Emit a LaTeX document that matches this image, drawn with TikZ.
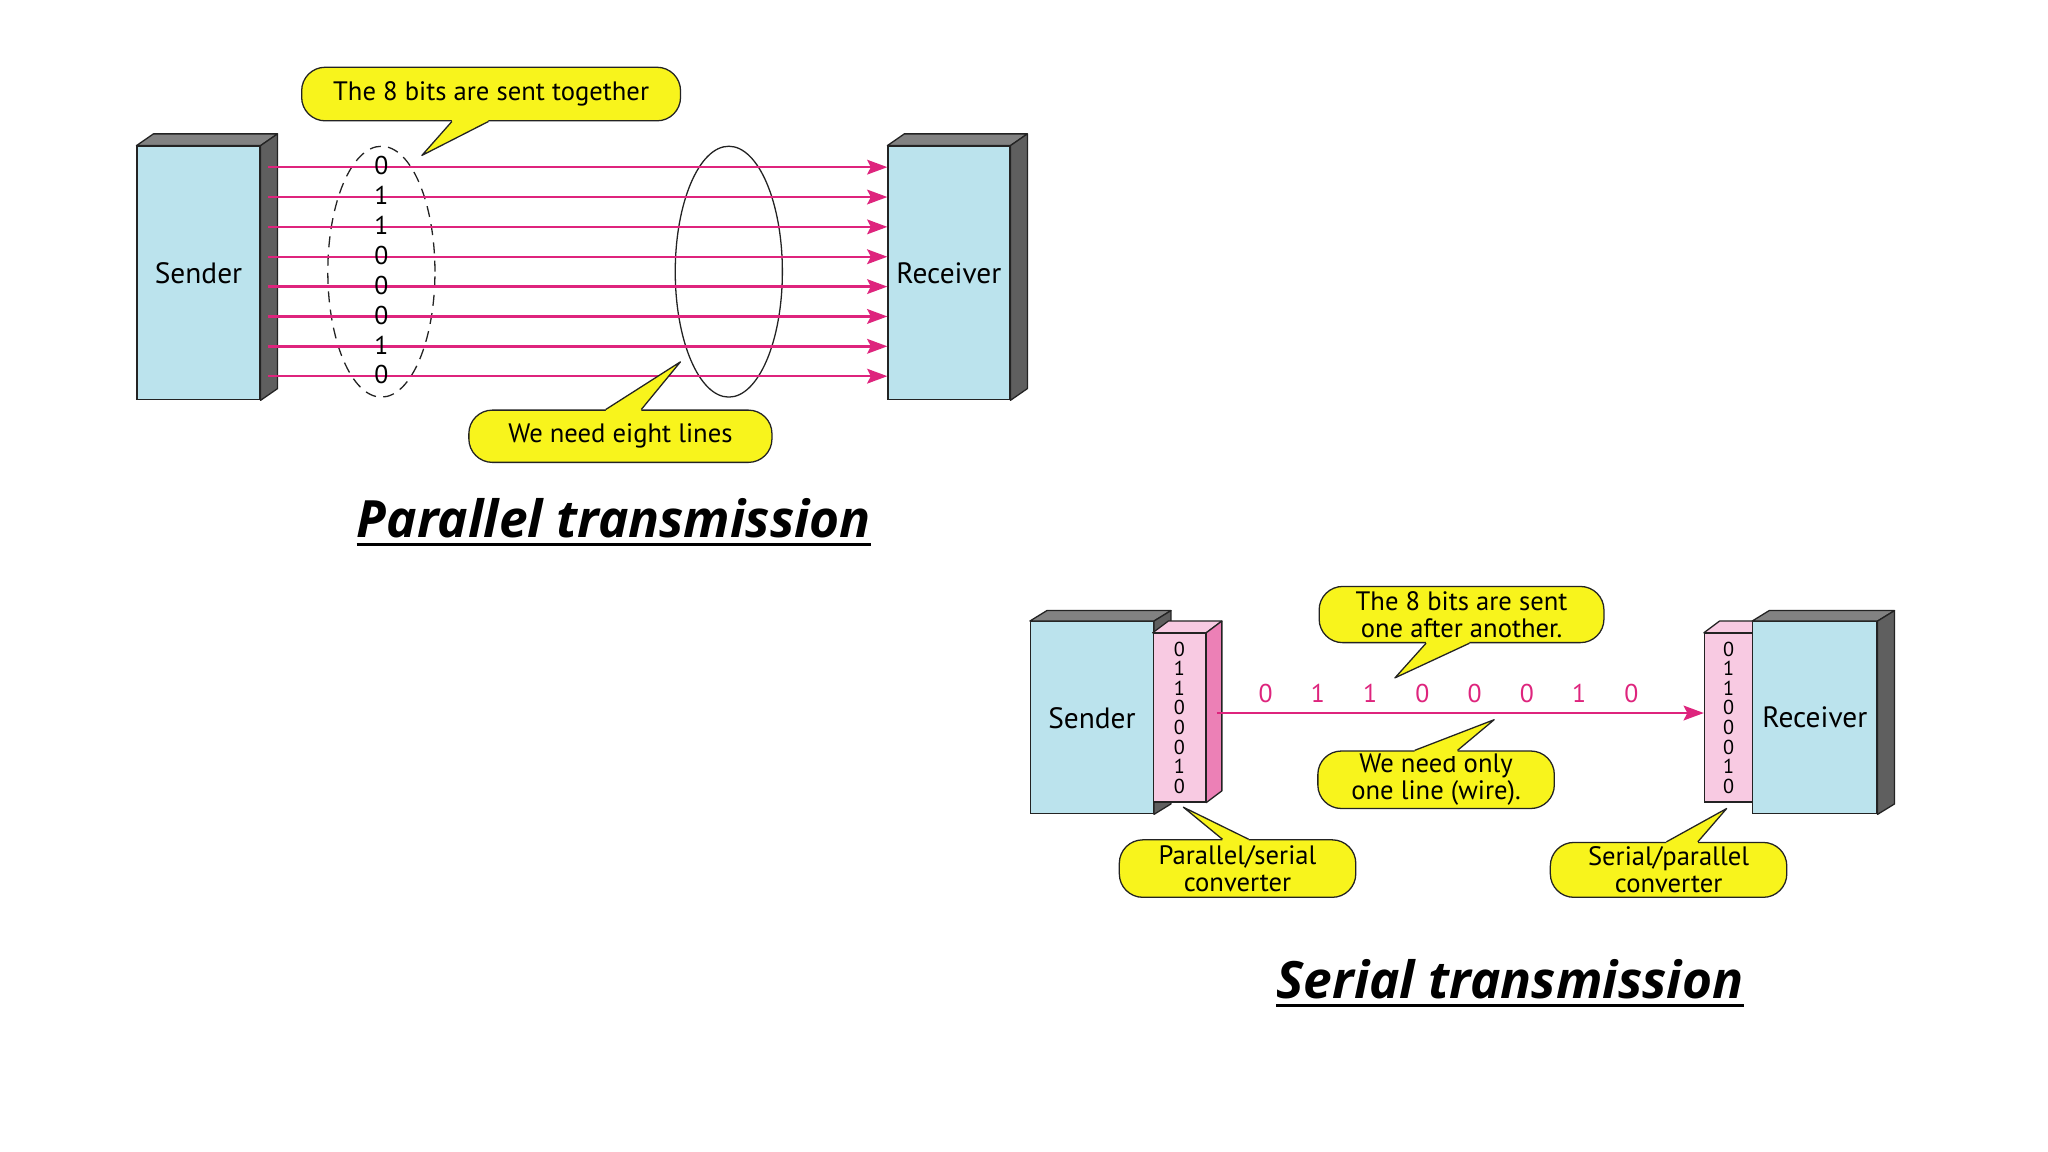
\documentclass[tikz,border=0pt]{standalone}
\usepackage{fontspec}
\setmainfont{PT Sans}
\newfontfamily\headfont{Open Sans}
\usepackage{xcolor}
\usepackage{tikz}
\usetikzlibrary{shapes.geometric, arrows.meta, positioning, calc}
\definecolor{BoxBlue}{RGB}{187, 227, 237}
\definecolor{SideGray}{RGB}{95, 95, 95}
\definecolor{TopGray}{RGB}{130, 130, 130}
\definecolor{WireMag}{RGB}{222, 36, 125}
\definecolor{CallYellow}{RGB}{248, 244, 28}
\definecolor{ConvPink}{RGB}{248, 202, 226}
\definecolor{ConvSide}{RGB}{236, 128, 182}
\definecolor{LineDark}{RGB}{35, 35, 35}

\tikzset{
  station/.style={draw=LineDark, fill=BoxBlue, line width=0.7pt, inner sep=0pt,
    font=\fontsize{16}{18}\selectfont},
  convbox/.style={draw=LineDark, fill=ConvPink, line width=0.7pt, inner sep=0pt},
  sideface/.style={draw=LineDark, fill=#1, line width=0.7pt, line join=round},
  bubble/.style={draw=LineDark, fill=CallYellow, line width=0.7pt, rounded corners=0.45cm,
    inner sep=0pt, align=center, font=\fontsize{14.5}{14.5}\selectfont},
  wire/.style={draw=WireMag, line width=1.3pt, -{Stealth[length=11pt, width=8pt, inset=2pt]}},
  bit/.style={inner sep=0pt, font=\fontsize{14}{14}\selectfont},
  stackbit/.style={inner sep=0pt, font=\fontsize{11}{11}\selectfont},
  group/.style={ellipse, draw=LineDark, line width=0.7pt, inner sep=0pt,
    minimum width=2.05cm, minimum height=4.8cm},
  heading/.style={inner sep=0pt, font=\headfont\fontsize{28}{30}\selectfont\bfseries\itshape}
}

% tail of a speech bubble: anchor, left and right offset, tip, inward shift
\newcommand{\bubbletail}[5]{%
  \fill[CallYellow] ([xshift=#2]#1) -- (#4) -- ([xshift=#3]#1)
    -- ([xshift=#3, yshift=#5]#1) -- ([xshift=#2, yshift=#5]#1) -- cycle;
  \draw[LineDark, line width=0.7pt, line join=round] ([xshift=#2]#1) -- (#4) -- ([xshift=#3]#1);
}

\begin{document}
\begin{tikzpicture}[x=0.025cm, y=-0.025cm]
  \fill[white] (0,0) rectangle (1568,882);
  \useasboundingbox (0,0) rectangle (1568,882);

  % ---------------- parallel ----------------
  \node[station, minimum width=2.35cm, minimum height=4.85cm] (sndA) at (152,209) {Sender};
  \node[station, minimum width=2.33cm, minimum height=4.85cm] (rcvA) at (726.5,209) {Receiver};
  \foreach \n in {sndA, rcvA} {
    \path[sideface=TopGray] (\n.north west) -- ++(13,-9) -- ([shift={(13,-9)}]\n.north east) -- (\n.north east) -- cycle;
    \path[sideface=SideGray] (\n.north east) -- ++(13,-9) -- ([shift={(13,-9)}]\n.south east) -- (\n.south east) -- cycle;
  }

  \node[group, dash pattern=on 6pt off 4pt] (grpA) at (292,208) {};
  \node[group] (grpB) at (558,208) {};

  \foreach \b [count=\i from 0] in {0,1,1,0,0,0,1,0} {
    \pgfmathsetmacro\dy{2.025-0.5714*\i}
    \draw[wire] ([xshift=0.15cm, yshift=\dy cm]sndA.east) -- ([yshift=\dy cm]rcvA.west);
    \node[bit] (bitA\i) at ([yshift=\dy cm]grpA.center) {\b};
  }

  \node[bubble, minimum width=7.25cm, minimum height=1.025cm] (noteA) at (376,72) {The 8 bits are sent together};
  \coordinate (tipA) at (323,119);
  \bubbletail{noteA.south}{-0.75cm}{-0.05cm}{tipA}{3pt}

  \node[bubble, minimum width=5.8cm, minimum height=1.0cm] (noteB) at (475,334) {We need eight lines};
  \coordinate (tipB) at (521,277);
  \bubbletail{noteB.north}{-0.28cm}{0.4cm}{tipB}{-3pt}

  \node[heading] (ttlA) at (470,397) {Parallel transmission};
  \draw[line width=1.4pt] ([yshift=-3.5pt]ttlA.base west) -- ([yshift=-3.5pt]ttlA.base east);

  % ---------------- serial ----------------
  \node[station, minimum width=2.35cm, minimum height=3.675cm] (sndB) at (836,549.5) {Sender};
  \path[sideface=TopGray] (sndB.north west) -- ++(13,-8) -- ([shift={(13,-8)}]sndB.north east) -- (sndB.north east) -- cycle;
  \path[sideface=SideGray] (sndB.north east) -- ++(13,-8) -- ([shift={(13,-8)}]sndB.south east) -- (sndB.south east) -- cycle;

  \node[convbox, minimum width=1.0cm, minimum height=3.225cm] (cnvS) at (903,549.5) {};
  \path[sideface=ConvPink] (cnvS.north west) -- ++(12,-9) -- ([shift={(12,-9)}]cnvS.north east) -- (cnvS.north east) -- cycle;
  \path[sideface=ConvSide] (cnvS.north east) -- ++(12,-9) -- ([shift={(12,-9)}]cnvS.south east) -- (cnvS.south east) -- cycle;

  \node[convbox, minimum width=0.925cm, minimum height=3.225cm] (cnvR) at (1323.5,549.5) {};
  \path[sideface=ConvPink] (cnvR.north west) -- ++(12,-9) -- ([shift={(12,-9)}]cnvR.north east) -- (cnvR.north east) -- cycle;

  \node[station, minimum width=2.375cm, minimum height=3.675cm] (rcvB) at (1389.5,549.5) {Receiver};
  \path[sideface=TopGray] (rcvB.north west) -- ++(13,-8) -- ([shift={(13,-8)}]rcvB.north east) -- (rcvB.north east) -- cycle;
  \path[sideface=SideGray] (rcvB.north east) -- ++(13,-8) -- ([shift={(13,-8)}]rcvB.south east) -- (rcvB.south east) -- cycle;

  \foreach \b [count=\i from 0] in {0,1,1,0,0,0,1,0} {
    \pgfmathsetmacro\dy{1.3125-0.375*\i}
    \node[stackbit] (bitS\i) at ([yshift=\dy cm]cnvS.center) {\b};
    \node[stackbit] (bitR\i) at ([yshift=\dy cm]cnvR.center) {\b};
    \node[bit, text=WireMag] (bitW\i) at (969+40*\i,531) {\b};
  }
  \draw[wire] ([xshift=0.2cm, yshift=0.09cm]cnvS.east) -- ([yshift=0.09cm]cnvR.west);

  \node[bubble, minimum width=5.45cm, minimum height=1.075cm] (noteC) at (1119,470.5) {The 8 bits are sent\\one after another.};
  \coordinate (tipC) at (1068,519);
  \bubbletail{noteC.south}{-0.68cm}{0.15cm}{tipC}{3pt}

  \node[bubble, minimum width=4.525cm, minimum height=1.1cm] (noteD) at (1099.5,597) {We need only\\one line (wire).};
  \coordinate (tipD) at (1144,551);
  \bubbletail{noteD.north}{-0.41cm}{0.41cm}{tipD}{-3pt}

  \node[bubble, minimum width=4.525cm, minimum height=1.1cm] (noteE) at (947.5,665) {Parallel/serial\\converter};
  \coordinate (tipE) at (906,618);
  \bubbletail{noteE.north}{-0.29cm}{0.21cm}{tipE}{-3pt}

  \node[bubble, minimum width=4.525cm, minimum height=1.05cm] (noteF) at (1277.5,666) {Serial/parallel\\converter};
  \coordinate (tipF) at (1322,619);
  \bubbletail{noteF.north}{-0.04cm}{0.56cm}{tipF}{-3pt}

  \node[heading] (ttlB) at (1156,750) {Serial transmission};
  \draw[line width=1.4pt] ([yshift=-3.5pt]ttlB.base west) -- ([yshift=-3.5pt]ttlB.base east);
\end{tikzpicture}
\end{document}
